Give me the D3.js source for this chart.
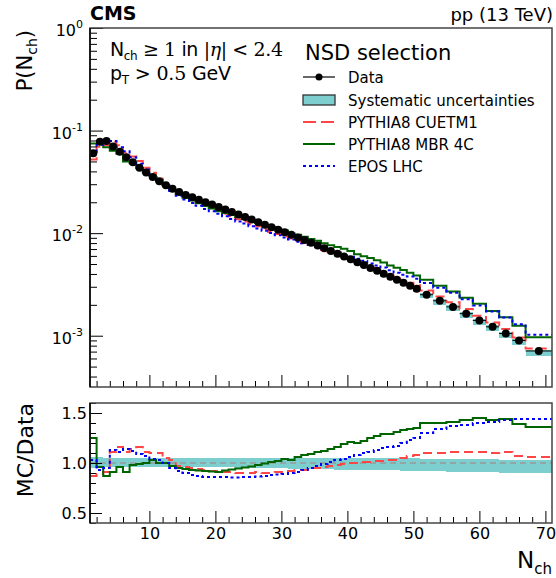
<!DOCTYPE html>
<html><head><meta charset="utf-8">
<script src="https://cdn.jsdelivr.net/npm/d3@7"></script>
<style>
body{margin:0;background:#fff}
text{font-family:"DejaVu Sans",sans-serif;fill:#000}
</style>
</head><body>
<svg id="c" width="556" height="578"></svg>
<script>
// ---------------- data ----------------
const binEdges = [...d3.range(1, 52), 53, 55, 57, 59, 61, 63, 65, 67, 71];
const dataP = [0.060,0.078,0.079,0.070,0.062,0.055,0.049,0.0435,0.039,0.0352,
  0.0320,0.0293,0.0271,0.0252,0.0236,0.0224,0.0212,0.0200,0.0190,0.0180,
  0.0170,0.0161,0.0152,0.0144,0.0136,0.0128,0.0121,0.0114,0.0108,0.0102,
  0.00962,0.00908,0.00855,0.00805,0.00759,0.00713,0.00670,0.00630,0.00592,0.00555,
  0.00520,0.00488,0.00457,0.00429,0.00401,0.00375,0.00351,0.00328,0.00307,0.00287,
  0.00251,0.00219,0.00191,0.00164,0.00141,0.00122,0.00105,0.00090,0.00071];
const ratioCUETM1 = [0.87,0.89,0.91,1.11,1.16,1.11,1.14,1.16,1.11,1.10,
  1.10,1.05,1.03,0.97,0.96,0.95,0.94,0.93,0.92,0.92,
  0.91,0.91,0.90,0.90,0.90,0.91,0.90,0.90,0.91,0.91,
  0.92,0.93,0.93,0.95,0.95,0.96,0.97,0.98,0.99,1.00,
  1.00,1.01,1.01,1.02,1.02,1.03,1.03,1.05,1.07,1.08,
  1.10,1.10,1.11,1.11,1.11,1.10,1.11,1.07,1.06];
const ratioMBR4C = [1.25,0.96,0.87,0.91,0.96,0.91,0.98,0.99,1.00,1.03,
  1.00,1.00,0.97,0.95,0.94,0.93,0.925,0.92,0.915,0.91,
  0.925,0.935,0.945,0.955,0.965,0.98,0.995,1.01,1.02,1.04,
  1.03,1.06,1.08,1.09,1.11,1.12,1.14,1.16,1.19,1.21,
  1.20,1.22,1.25,1.27,1.29,1.29,1.31,1.33,1.34,1.35,
  1.40,1.40,1.41,1.43,1.45,1.43,1.44,1.39,1.36];
const ratioEPOS = [1.03,0.93,0.95,1.13,1.11,1.14,1.12,1.09,1.07,1.04,
  1.03,1.00,0.95,0.92,0.90,0.88,0.87,0.86,0.86,0.86,
  0.86,0.855,0.855,0.86,0.86,0.865,0.87,0.88,0.885,0.89,
  0.90,0.91,0.93,0.95,0.97,0.99,1.01,1.03,1.04,1.06,
  1.08,1.10,1.11,1.13,1.15,1.16,1.17,1.20,1.23,1.25,
  1.30,1.34,1.37,1.38,1.40,1.41,1.43,1.44,1.44];
const sysUp = [0.06,0.06,0.055,0.055,0.055,0.055,0.055,0.055,0.055,0.055,
  0.055,0.055,0.055,0.055,0.055,0.055,0.055,0.055,0.055,0.055,
  0.05,0.05,0.05,0.05,0.05,0.05,0.05,0.05,0.05,0.05,
  0.05,0.05,0.05,0.05,0.05,0.05,0.05,0.05,0.05,0.05,
  0.05,0.05,0.05,0.05,0.05,0.05,0.05,0.05,0.05,0.05,
  0.045,0.045,0.045,0.04,0.04,0.04,0.035,0.035,0.03];
const sysDown = [0.045,0.04,0.04,0.04,0.04,0.04,0.04,0.04,0.04,0.04,
  0.04,0.04,0.04,0.04,0.04,0.04,0.04,0.04,0.04,0.04,
  0.042,0.044,0.046,0.048,0.05,0.05,0.05,0.05,0.052,0.053,
  0.055,0.056,0.058,0.06,0.062,0.063,0.064,0.065,0.066,0.067,
  0.068,0.069,0.07,0.071,0.072,0.073,0.074,0.075,0.076,0.077,
  0.08,0.082,0.085,0.088,0.09,0.092,0.095,0.098,0.10];
const xTicks = [10, 20, 30, 40, 50, 60, 70];
const yMainTicks = [1, 0.1, 0.01, 0.001];
const yMainExp = ["0", "-1", "-2", "-3"];
const ratioTicks = [0.5, 1.0, 1.5];
const ratioTickLabels = ["0.5", "1.0", "1.5"];
const legendLabels = ["Data", "Systematic uncertainties", "PYTHIA8 CUETM1", "PYTHIA8 MBR 4C", "EPOS LHC"];

// ---------------- layout ----------------
const svg = d3.select("#c");
const L = 90, R = 552, T1 = 28, B1 = 387, T2 = 403, B2 = 523;
const x = d3.scaleLinear([1, 71], [L, R]);
const y = d3.scaleLog([Math.pow(10, -3.5), 1], [B1, T1]);
const yr = d3.scaleLinear([0.4, 1.6], [B2, T2]);

const colRed = "#ff4646", colGreen = "#006400", colBlue = "#0000ff", colBand = "#7dcfcf";
const styles = [
  {r: ratioCUETM1, c: colRed, dash: "9,5"},
  {r: ratioMBR4C, c: colGreen, dash: null},
  {r: ratioEPOS, c: colBlue, dash: "3,3"}
];

const bins = dataP.map((p, i) => ({lo: binEdges[i], hi: binEdges[i + 1], p, i}));

const defs = svg.append("defs");
defs.append("clipPath").attr("id", "clip1").append("rect")
  .attr("x", L).attr("y", T1).attr("width", R - L).attr("height", B1 - T1);
defs.append("clipPath").attr("id", "clip2").append("rect")
  .attr("x", L).attr("y", T2).attr("width", R - L).attr("height", B2 - T2);

function stepPath(vals, ys) {
  let d = "";
  vals.forEach((v, i) => {
    const x0 = x(binEdges[i]), x1 = x(binEdges[i + 1]), yy = ys(v);
    d += (i === 0 ? `M${x0},${yy}` : `V${yy}`) + `H${x1}`;
  });
  return d;
}

// ---------------- upper panel ----------------
const g1 = svg.append("g").attr("clip-path", "url(#clip1)");
g1.selectAll("rect.band").data(bins).join("rect")
  .attr("x", d => x(d.lo)).attr("width", d => x(d.hi) - x(d.lo))
  .attr("y", d => y(d.p * (1 + sysUp[d.i])))
  .attr("height", d => y(d.p * (1 - sysDown[d.i])) - y(d.p * (1 + sysUp[d.i])))
  .attr("fill", colBand).attr("shape-rendering", "crispEdges");
styles.forEach(s => {
  g1.append("path").attr("d", stepPath(dataP.map((p, i) => p * s.r[i]), y))
    .attr("fill", "none").attr("stroke", s.c).attr("stroke-width", 2)
    .attr("stroke-dasharray", s.dash);
});
g1.selectAll("line.xerr").data(bins).join("line")
  .attr("x1", d => x(d.lo)).attr("x2", d => x(d.hi))
  .attr("y1", d => y(d.p)).attr("y2", d => y(d.p))
  .attr("stroke", "#000").attr("stroke-width", 1);
g1.selectAll("circle").data(bins).join("circle")
  .attr("cx", d => x((d.lo + d.hi) / 2)).attr("cy", d => y(d.p)).attr("r", 4)
  .attr("fill", "#000");

// ---------------- ratio panel ----------------
const g2 = svg.append("g").attr("clip-path", "url(#clip2)");
g2.selectAll("rect.band").data(bins).join("rect")
  .attr("x", d => x(d.lo)).attr("width", d => x(d.hi) - x(d.lo))
  .attr("y", d => yr(1 + sysUp[d.i]))
  .attr("height", d => yr(1 - sysDown[d.i]) - yr(1 + sysUp[d.i]))
  .attr("fill", colBand).attr("shape-rendering", "crispEdges");
g2.append("line").attr("x1", L).attr("x2", R).attr("y1", yr(1)).attr("y2", yr(1))
  .attr("stroke", "#999").attr("stroke-width", 1.5).attr("stroke-dasharray", "6,4");
styles.forEach(s => {
  g2.append("path").attr("d", stepPath(s.r, yr))
    .attr("fill", "none").attr("stroke", s.c).attr("stroke-width", 2)
    .attr("stroke-dasharray", s.dash);
});

// ---------------- axes ----------------
function styleAxis(g) {
  g.select(".domain").remove();
  g.selectAll(".tick line").attr("stroke", "#000").attr("stroke-width", 1);
  g.selectAll("text").style("font-size", "16px").style("font-family", "DejaVu Sans");
}
const minorX = d3.range(2, 71, 2).filter(v => v % 10 !== 0);
svg.append("g").attr("transform", `translate(0,${B1})`)
  .call(d3.axisBottom(x).tickValues(xTicks).tickSizeInner(-12).tickSizeOuter(0).tickFormat(""))
  .call(styleAxis);
svg.append("g").attr("transform", `translate(0,${B1})`)
  .call(d3.axisBottom(x).tickValues(minorX).tickSizeInner(-6).tickSizeOuter(0).tickFormat(""))
  .call(styleAxis);
svg.append("g").attr("transform", `translate(0,${B2})`)
  .call(d3.axisBottom(x).tickValues(xTicks).tickSizeInner(-12).tickSizeOuter(0).tickPadding(5).tickFormat(d3.format("d")))
  .call(styleAxis);
svg.append("g").attr("transform", `translate(0,${B2})`)
  .call(d3.axisBottom(x).tickValues(minorX).tickSizeInner(-6).tickSizeOuter(0).tickFormat(""))
  .call(styleAxis);
const minorY = [];
[0.0001, 0.001, 0.01, 0.1].forEach(dec => d3.range(2, 10).forEach(k => { if (dec * k >= Math.pow(10, -3.5)) minorY.push(dec * k); }));
svg.append("g").attr("transform", `translate(${L},0)`)
  .call(d3.axisLeft(y).tickValues(yMainTicks).tickSizeInner(-13).tickSizeOuter(0).tickFormat(""))
  .call(styleAxis);
svg.append("g").attr("transform", `translate(${L},0)`)
  .call(d3.axisLeft(y).tickValues(minorY).tickSizeInner(-7).tickSizeOuter(0).tickFormat(""))
  .call(styleAxis);
const yl = svg.append("g");
yMainTicks.forEach((v, i) => {
  const t = yl.append("text").attr("x", 83).attr("y", y(v) + 8).attr("text-anchor", "end")
    .style("font-size", "16px");
  t.append("tspan").text("10");
  t.append("tspan").attr("dy", -8).style("font-size", "11px").text(yMainExp[i]);
});
const minorR = d3.range(0.4, 1.61, 0.1).map(v => +v.toFixed(1)).filter(v => !ratioTicks.includes(v));
svg.append("g").attr("transform", `translate(${L},0)`)
  .call(d3.axisLeft(yr).tickValues(ratioTicks).tickSizeInner(-12).tickSizeOuter(0).tickPadding(3)
    .tickFormat((d, i) => ratioTickLabels[i]))
  .call(styleAxis);
svg.append("g").attr("transform", `translate(${L},0)`)
  .call(d3.axisLeft(yr).tickValues(minorR).tickSizeInner(-6).tickSizeOuter(0).tickFormat(""))
  .call(styleAxis);

[[T1, B1], [T2, B2]].forEach(([t, b]) => {
  svg.append("rect").attr("x", L).attr("y", t).attr("width", R - L).attr("height", b - t)
    .attr("fill", "none").attr("stroke", "#444").attr("stroke-width", 1.5);
  svg.append("line").attr("x1", L).attr("x2", L).attr("y1", t).attr("y2", b)
    .attr("stroke", "#000").attr("stroke-width", 1.5);
});

// ---------------- titles ----------------
svg.append("text").attr("x", 90).attr("y", 20).style("font-weight", "bold").style("font-size", "19px").text("CMS");
svg.append("text").attr("x", 553).attr("y", 21).attr("text-anchor", "end").style("font-size", "18px").text("pp (13 TeV)");

const yt = svg.append("text").attr("transform", "translate(32,30) rotate(-90)")
  .attr("text-anchor", "end").style("font-size", "21px");
yt.append("tspan").text("P(N");
yt.append("tspan").attr("dy", 5).style("font-size", "14px").text("ch");
yt.append("tspan").attr("dy", -5).text(")");

svg.append("text").attr("transform", `translate(33,${T2}) rotate(-90)`)
  .attr("text-anchor", "end").style("font-size", "22px").text("MC/Data");

const xt = svg.append("text").attr("x", 552).attr("y", 568).attr("text-anchor", "end").style("font-size", "23px");
xt.append("tspan").text("N");
xt.append("tspan").attr("dy", 6).style("font-size", "15px").text("ch");

// selection text
const serif = "'DejaVu Serif', serif";
const n1 = svg.append("text").attr("x", 110).attr("y", 56).style("font-size", "19px")
  .attr("textLength", 173).attr("lengthAdjust", "spacing");
n1.append("tspan").text("N");
n1.append("tspan").attr("dy", 4).style("font-size", "12px").text("ch");
n1.append("tspan").attr("dy", -4).style("font-family", serif).text(" \u2265 1 ");
n1.append("tspan").text("in ");
n1.append("tspan").style("font-family", serif).text("|");
n1.append("tspan").style("font-family", serif).style("font-style", "italic").text("\u03b7");
n1.append("tspan").style("font-family", serif).text("| < 2.4");
const n2 = svg.append("text").attr("x", 110).attr("y", 80).style("font-size", "19px")
  .attr("textLength", 121).attr("lengthAdjust", "spacing");
n2.append("tspan").text("p");
n2.append("tspan").attr("dy", 4).style("font-size", "12px").text("T");
n2.append("tspan").attr("dy", -4).style("font-family", serif).text(" > 0.5 ");
n2.append("tspan").text("GeV");

// ---------------- legend ----------------
svg.append("text").attr("x", 305).attr("y", 60).style("font-size", "21px").text("NSD selection");
const rowY = [77, 100, 122, 144, 166];
const lx0 = 303, lx1 = 335;
const lg = svg.append("g");
lg.append("line").attr("x1", lx0).attr("x2", lx1).attr("y1", rowY[0]).attr("y2", rowY[0]).attr("stroke", "#000").attr("stroke-width", 1.2);
lg.append("circle").attr("cx", (lx0 + lx1) / 2).attr("cy", rowY[0]).attr("r", 3.5).attr("fill", "#000");
lg.append("rect").attr("x", lx0).attr("y", rowY[1] - 5).attr("width", lx1 - lx0).attr("height", 10)
  .attr("fill", colBand).attr("stroke", "#333").attr("stroke-width", 1.3);
styles.forEach((s, i) => {
  lg.append("line").attr("x1", lx0).attr("x2", lx1).attr("y1", rowY[2 + i]).attr("y2", rowY[2 + i])
    .attr("stroke", s.c).attr("stroke-width", 2).attr("stroke-dasharray", i === 0 ? "13,5" : s.dash);
});
legendLabels.forEach((t, i) => {
  lg.append("text").attr("x", 348).attr("y", rowY[i] + 5.5).style("font-size", "15px").text(t);
});
</script>
</body></html>
